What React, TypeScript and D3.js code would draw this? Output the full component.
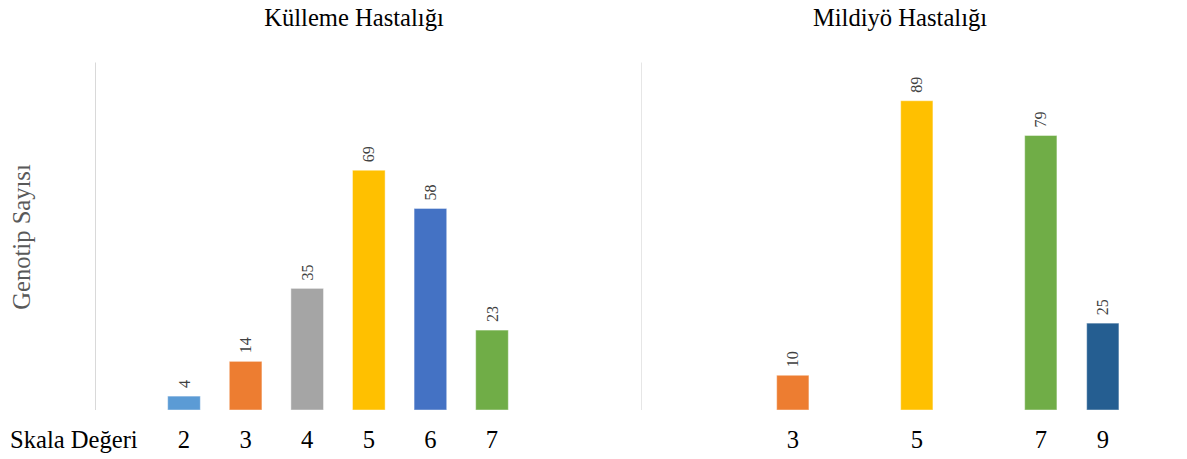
import React from "react";
import * as d3 from "d3";

// Külleme (powdery mildew) scale values and genotype counts
const kullemeSlots = ["1", "2", "3", "4", "5", "6", "7", "8"];
const kullemeSkala = ["2", "3", "4", "5", "6", "7"];
const kullemeSayi = [4, 14, 35, 69, 58, 23];

// Mildiyö (downy mildew) scale values and genotype counts
const mildiyoSlots = ["1", "2", "3", "4", "5", "6", "7", "9"];
const mildiyoSkala = ["3", "5", "7", "9"];
const mildiyoSayi = [10, 89, 79, 25];

// Colour per scale value
const skalaRenk: Record<string, string> = {
  "2": "#5B9BD5",
  "3": "#ED7D31",
  "4": "#A5A5A5",
  "5": "#FFC000",
  "6": "#4472C4",
  "7": "#70AD47",
  "9": "#255E91",
};

const yDomain = [0, 100];

const W = 1187;
const H = 459;
const BASE_Y = 410;
const TOP_Y = 62.5;
const FONT = "'Liberation Serif', 'Times New Roman', serif";
const BIG = 24.6;

const y = d3.scaleLinear().domain(yDomain).range([BASE_Y, TOP_Y]);

type PanelProps = {
  title: string;
  titleX: number;
  axisX: number;
  axisColor: string;
  slots: string[];
  start: number;
  step: number;
  pad: number;
  skala: string[];
  sayi: number[];
};

function Panel({ title, titleX, axisX, axisColor, slots, start, step, pad, skala, sayi }: PanelProps) {
  const x = d3
    .scaleBand<string>()
    .domain(slots)
    .range([start, start + step * slots.length])
    .paddingInner(pad)
    .paddingOuter(pad / 2);

  return (
    <g>
      <text
        x={titleX}
        y={26}
        textAnchor="middle"
        fontFamily={FONT}
        fontSize={BIG}
        fill="#000"
      >
        {title}
      </text>
      <line x1={axisX} x2={axisX} y1={y(yDomain[1])} y2={y(0)} stroke={axisColor} strokeWidth={1} />
      {skala.map((s, i) => {
        const bx = x(s) as number;
        const bw = x.bandwidth();
        const cx = bx + bw / 2;
        const top = y(sayi[i]);
        return (
          <g key={s}>
            <rect
              x={bx}
              y={top}
              width={bw}
              height={y(0) - top}
              fill={skalaRenk[s]}
              stroke="#ffffff"
              strokeOpacity={0.45}
              strokeWidth={1}
            />
            <text
              transform={`translate(${cx},${top - 8}) rotate(-90)`}
              dy="0.35em"
              textAnchor="start"
              fontFamily={FONT}
              fontSize={16}
              fill="#404040"
            >
              {sayi[i]}
            </text>
            <text
              x={cx}
              y={448}
              textAnchor="middle"
              fontFamily={FONT}
              fontSize={BIG}
              fill="#000"
            >
              {s}
            </text>
          </g>
        );
      })}
    </g>
  );
}

export default function App() {
  return (
    <svg
      width={W}
      height={H}
      viewBox={`0 0 ${W} ${H}`}
      style={{ position: "absolute", left: 0, top: 0, background: "#fff" }}
    >
      <rect x={0} y={0} width={W} height={H} fill="#fff" />
      <text
        transform={`translate(30,237) rotate(-90)`}
        textAnchor="middle"
        fontFamily={FONT}
        fontSize={BIG}
        fill="#595959"
      >
        Genotip Sayısı
      </text>
      <text x={10} y={448} fontFamily={FONT} fontSize={BIG} fill="#000">
        Skala Değeri
      </text>
      <Panel
        title="Külleme Hastalığı"
        titleX={354}
        axisX={95.5}
        axisColor="#d9d9d9"
        slots={kullemeSlots}
        start={91.6}
        step={61.6}
        pad={0.47}
        skala={kullemeSkala}
        sayi={kullemeSayi}
      />
      <Panel
        title="Mildiyö Hastalığı"
        titleX={900}
        axisX={641.5}
        axisColor="#e6e6e6"
        slots={mildiyoSlots}
        start={637.8}
        step={62}
        pad={0.48}
        skala={mildiyoSkala}
        sayi={mildiyoSayi}
      />
    </svg>
  );
}
